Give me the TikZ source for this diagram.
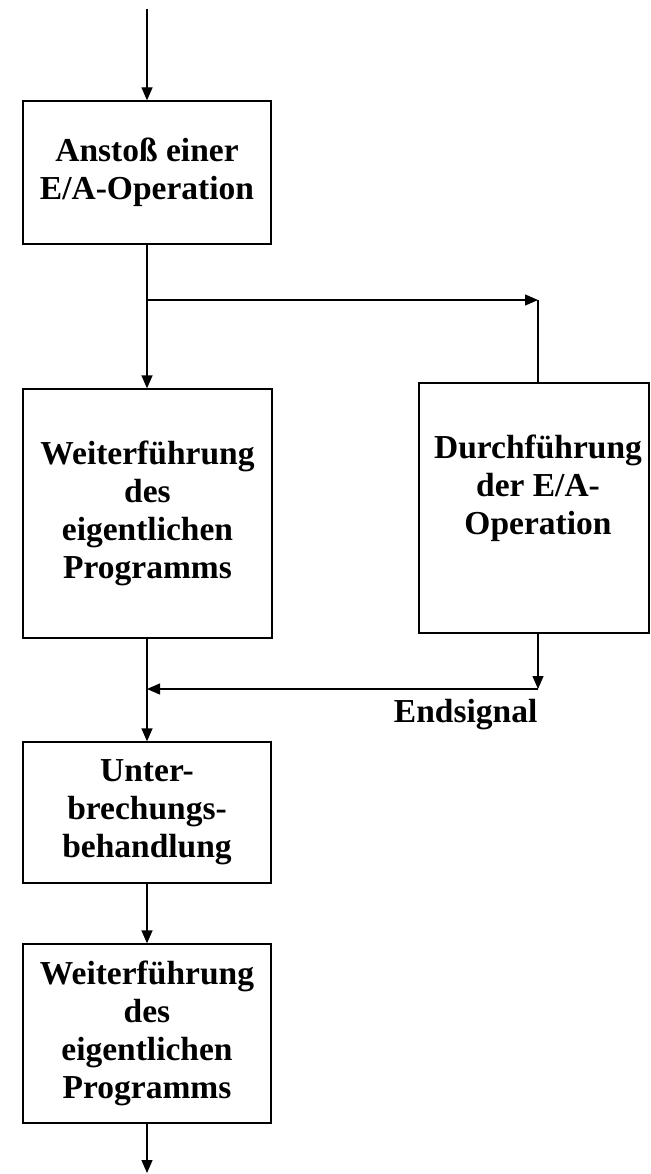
\documentclass[tikz,border=0pt]{standalone}
\usepackage{fontspec}
\setmainfont{Liberation Serif}
\usetikzlibrary{arrows.meta}
\begin{document}
\begin{tikzpicture}[x=1pt,y=-1pt,
  line width=1.3pt,
  flow/.style={-{Triangle[length=13pt,width=11pt]}},
  stepbox/.style={draw,rectangle,inner sep=0pt,align=center,
    font=\fontsize{33.5}{38}\selectfont\bfseries},
  lbl/.style={inner sep=0pt,align=center,font=\fontsize{33.5}{38}\selectfont\bfseries}]
  \useasboundingbox (0,0) rectangle (650,1174);

  % boxes
  \node[stepbox,minimum width=248pt,minimum height=143pt] (start) at (147,172.5)
    {Ansto\ss{} einer\\E/A-Operation};
  \node[stepbox,minimum width=249pt,minimum height=249pt] (cont1) at (147.5,513.5)
    {Weiterf\"uhrung\\des\\eigentlichen\\Programms};
  \node[stepbox,minimum width=230pt,minimum height=250pt] (exec) at (534,508) {};
  \node[lbl] (exectext) at (538,488) {Durchf\"uhrung\\der E/A-\\Operation};
  \node[stepbox,minimum width=248pt,minimum height=141pt] (irq) at (147,812.5)
    {Unter-\\brechungs-\\behandlung};
  \node[stepbox,minimum width=248pt,minimum height=179pt] (cont2) at (147,1033.5)
    {Weiterf\"uhrung\\des\\eigentlichen\\Programms};

  % helper points
  \coordinate (in) at (147,9);
  \coordinate (out) at (147,1173);
  \coordinate (fork) at (147,300);
  \coordinate (ioturn) at (538,300);
  \coordinate (endc) at (538,689);

  % connectors
  \draw[flow] (in) -- (start.north);
  \draw[flow] (start.south) -- (start.south |- cont1.north);
  \draw[flow] (fork) -- (ioturn);
  \draw (ioturn) -- (ioturn |- exec.north);
  \draw[flow] (ioturn |- exec.south) -- (endc);
  \draw[flow] (endc) -- (endc -| start.south);
  \draw[flow] (start.south |- cont1.south) -- (start.south |- irq.north);
  \draw[flow] (irq.south) -- (cont2.north);
  \draw[flow] (cont2.south) -- (out);

  \node[lbl,anchor=base east] (endsig) at (538,722) {Endsignal};
\end{tikzpicture}
\end{document}
